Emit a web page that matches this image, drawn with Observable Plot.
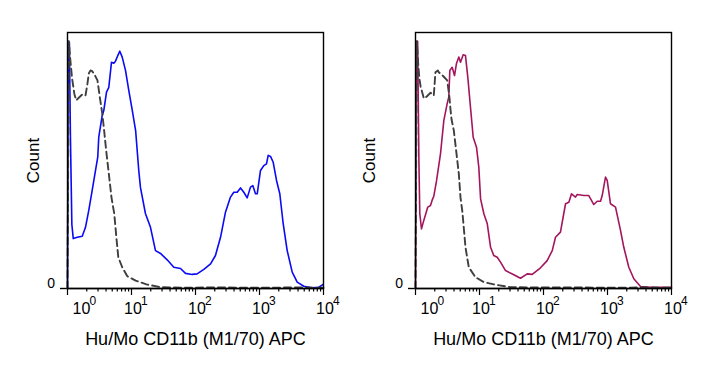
<!DOCTYPE html>
<html><head><meta charset="utf-8">
<script src="https://cdn.jsdelivr.net/npm/d3@7"></script>
<script src="https://cdn.jsdelivr.net/npm/@observablehq/plot@0.6"></script>
<style>
body{margin:0;background:#fff;}
#wrap{display:flex;width:704px;height:376px;background:#fff;}
</style></head><body><div id="wrap"></div>
<script>
// ---- axis ticks ----
const majorTicks = [1, 10, 100, 1000, 10000];
const firstTick = [1];
const firstExponent = ["0"];
const otherTicks = [10, 100, 1000, 10000];
const otherExponents = ["1", "2", "3", "4"];
const minorTicks = [2,3,4,5,6,7,8,9,20,30,40,50,60,70,80,90,200,300,400,500,600,700,800,900,2000,3000,4000,5000,6000,7000,8000,9000];
const xTitle = "Hu/Mo CD11b (M1/70) APC";
const yTitle = "Count";

// ---- left panel: stained (blue) ----
const leftStainX = [1.0, 1.03, 1.07, 1.11, 1.17, 1.23, 1.42, 1.70, 1.91, 2.15, 2.43, 2.74, 2.97, 3.08, 3.49, 3.69, 4.07, 4.42, 4.87, 5.29, 5.62, 6.11, 6.57, 7.16, 8.06, 9.08, 10.3, 11.6, 13.0, 13.8, 16.5, 19.8, 23.7, 28.4, 36.1, 45.8, 58.3, 69.8, 88.8, 106, 135, 172, 205, 246, 294, 352, 397, 448, 505, 569, 642, 723, 786, 866, 921, 1037, 1167, 1286, 1367, 1486, 1637, 1845, 2076, 2345, 2709, 3244, 3882, 4921, 6656, 8451, 9890];
const leftStainY = [0, 96.6, 96, 60, 25, 19.5, 20.0, 20.4, 23.9, 30.5, 38.3, 46.1, 51.3, 59.1, 67.6, 69.5, 76.7, 78.6, 88.4, 88.0, 88.8, 91.0, 92.7, 90.4, 85.2, 77.3, 69.5, 61.7, 46, 39.5, 29.3, 23.9, 14.8, 13.7, 11.2, 8.3, 7.8, 5.9, 5.5, 5.7, 7.5, 9.6, 12.9, 20.0, 29.8, 35.7, 37.6, 37.6, 39.3, 37.6, 35.4, 39.6, 40.2, 37.0, 37.0, 46.1, 48.0, 48.7, 52.0, 51.6, 49.3, 42.2, 37.0, 25.3, 14.8, 6.4, 2.5, 0.9, 0.3, 0.5, 1.6];
// ---- left panel: control (dashed) ----
const leftCtrlX = [1.0, 1.05, 1.1, 1.18, 1.28, 1.37, 1.5, 1.70, 1.91, 2.05, 2.15, 2.29, 2.43, 2.64, 2.94, 3.2, 3.49, 3.69, 4.07, 4.42, 4.87, 5.38, 5.8, 6.22, 7.16, 8.6, 11.6, 17.1, 28.4, 65, 200, 1000, 4000, 10000];
const leftCtrlY = [0, 96.6, 90, 82, 76, 73.5, 74.5, 75.8, 75.4, 80, 84.0, 85.2, 84.9, 83.6, 81.3, 74.7, 68.4, 63.0, 52.7, 44.9, 35.5, 29.2, 20, 12.2, 8.3, 4.8, 3.1, 1.6, 0.5, 0.3, 0.4, 0.3, 0.4, 0.3];

// ---- right panel: stained (magenta) ----
const rightStainX = [1.0, 1.04, 1.08, 1.13, 1.167, 1.24, 1.348, 1.556, 1.715, 1.82, 1.93, 2.13, 2.46, 2.77, 3.13, 3.31, 3.44, 3.74, 4.07, 4.37, 4.75, 5.05, 5.56, 6.04, 6.57, 7.23, 7.97, 8.98, 9.75, 10.4, 11.7, 13.2, 14.9, 16.7, 18.9, 21.3, 25.5, 34.4, 43.7, 55.6, 66.6, 89.8, 114, 137, 154, 184, 221, 249, 274, 316, 336, 426, 510, 611, 690, 778, 826, 931, 989, 1114, 1334, 1597, 1798, 2152, 2578, 3280, 4697, 9645, 10000];
const rightStainY = [0, 96.6, 96.6, 50, 29.3, 23.3, 26.6, 31.8, 32.4, 34.5, 36, 42, 52.7, 65.6, 72.3, 74.7, 85.2, 86.4, 83.2, 87.9, 90.4, 88.4, 91.3, 91.0, 82.5, 70.8, 59.1, 55.2, 47.4, 35, 29.2, 25.4, 16.1, 12.9, 12.2, 10.3, 7.0, 5.4, 4.0, 5.7, 5.5, 8.1, 10.9, 14.8, 20.0, 22.0, 33.1, 33.7, 37.0, 35.7, 36.7, 36.3, 36.3, 32.8, 34.1, 34.1, 36.3, 43.5, 42.2, 33.1, 31.8, 22.7, 16.1, 8.3, 3.8, 0.8, 0.5, 0.5, 0.5];
// ---- right panel: control (dashed) ----
const rightCtrlX = [1.0, 1.05, 1.10, 1.15, 1.20, 1.35, 1.5, 1.72, 1.93, 2.05, 2.23, 2.31, 2.7, 3.13, 3.39, 3.52, 3.66, 3.97, 4.37, 4.75, 5.05, 5.4, 6.04, 6.80, 8.66, 11.7, 16.7, 30.6, 80, 300, 1000, 4000, 10000];
const rightCtrlY = [0, 96.6, 88, 82, 79, 74.2, 75, 76.5, 75.4, 84.5, 85.2, 84.5, 83, 81.3, 74.7, 70, 66, 61.7, 52.7, 44.9, 35.5, 30, 16.1, 8.3, 4.4, 2.5, 1.6, 0.5, 0.4, 0.4, 0.3, 0.4, 0.3];

const FONT = "Arial, 'Liberation Sans', sans-serif";

function panel({stainX, stainY, ctrlX, ctrlY, color, marginLeft, marginRight, countDx}) {
  const stain = stainX.map((x, i) => ({x, y: stainY[i]}));
  const ctrl = ctrlX.map((x, i) => ({x, y: ctrlY[i]}));
  return Plot.plot({
    width: 352, height: 376,
    marginLeft, marginRight, marginTop: 32, marginBottom: 88,
    x: {type: "log", domain: [1, 10000], axis: null},
    y: {domain: [0, 100], axis: null},
    style: {fontFamily: FONT, background: "white", overflow: "visible", color: "#000"},
    marks: [
      Plot.axisX(minorTicks, {tickSize: 3.5, tickFormat: () => "", label: null, strokeWidth: 1.2}),
      Plot.axisX(majorTicks, {tickSize: 7, tickFormat: () => "", label: null, strokeWidth: 1.2}),
      Plot.axisY([0], {tickSize: 7, tickFormat: () => "", label: null, strokeWidth: 1.4}),
      Plot.line(stain, {x: "x", y: "y", stroke: color, strokeWidth: 1.6}),
      Plot.line(ctrl, {x: "x", y: "y", stroke: "#3f3f3f", strokeWidth: 1.9, strokeDasharray: "7,4"}),
      Plot.frame({stroke: "#000", strokeWidth: 1.4}),
      Plot.ruleY([0], {stroke: "#000", strokeWidth: 1.6}),
      // tick labels: 10 with superscript exponent
      Plot.text(otherTicks, {x: d => d, frameAnchor: "bottom", text: () => "10", dy: 25.5, dx: 1.5, lineAnchor: "bottom", textAnchor: "middle", fontSize: 16}),
      Plot.text(otherTicks, {x: d => d, frameAnchor: "bottom", text: (d, i) => otherExponents[i], dy: 16, dx: 9.5, lineAnchor: "bottom", textAnchor: "start", fontSize: 12}),
      Plot.text(firstTick, {x: d => d, frameAnchor: "bottom", text: () => "10", dy: 25.5, dx: 14, lineAnchor: "bottom", textAnchor: "middle", fontSize: 16}),
      Plot.text(firstTick, {x: d => d, frameAnchor: "bottom", text: (d, i) => firstExponent[i], dy: 16, dx: 22, lineAnchor: "bottom", textAnchor: "start", fontSize: 12}),
      // y zero label
      Plot.text([0], {y: d => d, frameAnchor: "left", text: () => "0", dx: -12.5, dy: -4.5, textAnchor: "end", lineAnchor: "middle", fontSize: 14}),
      // titles
      Plot.text([yTitle], {frameAnchor: "left", text: d => d, rotate: -90, dx: countDx, textAnchor: "middle", lineAnchor: "middle", fontSize: 17}),
      Plot.text([xTitle], {frameAnchor: "bottom", text: d => d, dy: 51, textAnchor: "middle", lineAnchor: "middle", fontSize: 18})
    ]
  });
}

const wrap = document.getElementById("wrap");
wrap.appendChild(panel({stainX: leftStainX, stainY: leftStainY, ctrlX: leftCtrlX, ctrlY: leftCtrlY, color: "#0a0af5", marginLeft: 67, marginRight: 29, countDx: -34}));
wrap.appendChild(panel({stainX: rightStainX, stainY: rightStainY, ctrlX: rightCtrlX, ctrlY: rightCtrlY, color: "#a3165e", marginLeft: 63, marginRight: 33, countDx: -46}));
</script></body></html>
